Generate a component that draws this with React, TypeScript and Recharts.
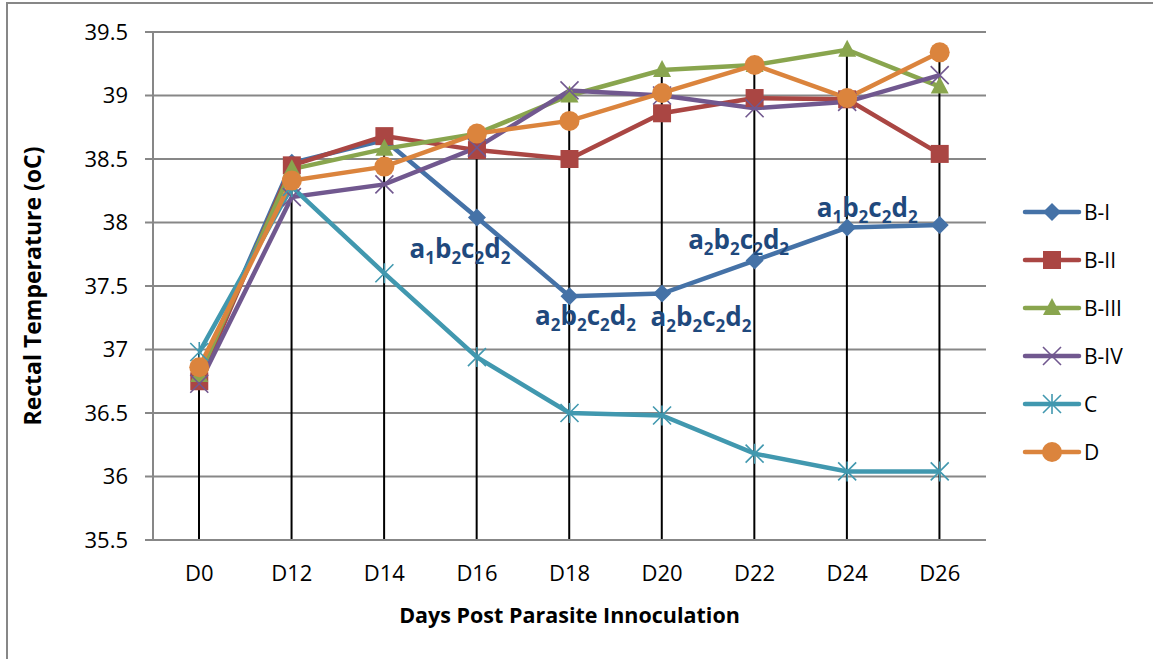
import {
  Bar,
  CartesianGrid,
  ComposedChart,
  LabelList,
  Legend,
  Line,
  XAxis,
  YAxis
} from "recharts";

const days = ["D0", "D12", "D14", "D16", "D18", "D20", "D22", "D24", "D26"];

const groupBI = [36.8, 38.47, 38.65, 38.04, 37.42, 37.44, 37.7, 37.96, 37.98];
const groupBII = [36.75, 38.45, 38.68, 38.57, 38.5, 38.86, 38.98, 38.97, 38.54];
const groupBIII = [36.8, 38.42, 38.58, 38.7, 39.0, 39.2, 39.24, 39.36, 39.07];
const groupBIV = [36.73, 38.2, 38.3, 38.59, 39.04, 39.0, 38.9, 38.95, 39.16];
const groupC = [36.98, 38.28, 37.6, 36.94, 36.5, 36.48, 36.18, 36.04, 36.04];
const groupD = [36.86, 38.33, 38.44, 38.7, 38.8, 39.02, 39.24, 38.98, 39.34];

// significance letters shown next to the B-I points
const bIMarks = ["", "", "", "a1b2c2d2", "a2b2c2d2", "a2b2c2d2", "a2b2c2d2", "a1b2c2d2", ""];

const yTicks = [35.5, 36, 36.5, 37, 37.5, 38, 38.5, 39, 39.5];

type Shape = "diamond" | "square" | "triangle" | "x" | "star" | "circle";

const series: { key: string; name: string; color: string; shape: Shape; values: number[] }[] = [
  { key: "bI", name: "B-I", color: "#4572A7", shape: "diamond", values: groupBI },
  { key: "bII", name: "B-II", color: "#AA4643", shape: "square", values: groupBII },
  { key: "bIII", name: "B-III", color: "#89A54E", shape: "triangle", values: groupBIII },
  { key: "bIV", name: "B-IV", color: "#71588F", shape: "x", values: groupBIV },
  { key: "c", name: "C", color: "#4198AF", shape: "star", values: groupC },
  { key: "d", name: "D", color: "#DB843D", shape: "circle", values: groupD }
];

const rows = days.map((day, i) => {
  const row: Record<string, number | string> = { day, mark: bIMarks[i] };
  series.forEach((s) => {
    row[s.key] = s.values[i];
  });
  row.drop = Math.max(...series.map((s) => s.values[i]));
  return row;
});

const FONT = "'Open Sans', Lato, sans-serif";
const GRAY = "#878787";

function Marker({ cx, cy, shape, color }: { cx: number; cy: number; shape: Shape; color: string }) {
  switch (shape) {
    case "diamond":
      return <path d={`M${cx},${cy - 9}L${cx + 9},${cy}L${cx},${cy + 9}L${cx - 9},${cy}Z`} fill={color} />;
    case "square":
      return <rect x={cx - 9} y={cy - 9} width={18} height={18} fill={color} />;
    case "triangle":
      return <path d={`M${cx},${cy - 10}L${cx + 9},${cy + 7}L${cx - 9},${cy + 7}Z`} fill={color} />;
    case "x":
      return (
        <path
          d={`M${cx - 9},${cy - 9}L${cx + 9},${cy + 9}M${cx + 9},${cy - 9}L${cx - 9},${cy + 9}`}
          stroke={color}
          strokeWidth={1.6}
        />
      );
    case "star":
      return (
        <path
          d={`M${cx - 9},${cy - 9}L${cx + 9},${cy + 9}M${cx + 9},${cy - 9}L${cx - 9},${cy + 9}M${cx},${cy - 10}L${cx},${cy + 10}`}
          stroke={color}
          strokeWidth={1.6}
        />
      );
    default:
      return <circle cx={cx} cy={cy} r={10} fill={color} />;
  }
}

// where each B-I annotation sits relative to its point
const markOffset: Record<number, [number, number]> = {
  3: [-17, 41],
  4: [16, 29],
  5: [39, 32],
  6: [-16, -12],
  7: [20, -11]
};

function MarkLabel(props: any) {
  const { x, y, value, index } = props;
  if (!value || !markOffset[index]) return null;
  const [dx, dy] = markOffset[index];
  const parts = String(value).match(/[a-z]\d/g) ?? [];
  return (
    <text x={x + dx} y={y + dy} textAnchor="middle" fill="#1F497D" fontFamily={FONT} fontWeight={700} fontSize={26}>
      {parts.map((p, i) => (
        <tspan key={i}>
          <tspan dy={i === 0 ? 0 : -6}>{p[0]}</tspan>
          <tspan dy={6} fontSize={17}>
            {p[1]}
          </tspan>
        </tspan>
      ))}
    </text>
  );
}

function LegendBox() {
  return (
    <div style={{ fontFamily: FONT, fontSize: 21, color: "#000" }}>
      {series.map((s) => (
        <div key={s.key} style={{ display: "flex", alignItems: "center", height: 48 }}>
          <svg width={60} height={24} style={{ display: "block" }}>
            <line x1={3} y1={12} x2={57} y2={12} stroke={s.color} strokeWidth={4.5} strokeLinecap="round" />
            <Marker cx={30} cy={12} shape={s.shape} color={s.color} />
          </svg>
          <span style={{ marginLeft: 2 }}>{s.name}</span>
        </div>
      ))}
    </div>
  );
}

export default function App() {
  return (
    <div style={{ position: "absolute", left: 0, top: 0, width: 1153, height: 659, background: "#fff", overflow: "hidden" }}>
      <div
        style={{
          position: "absolute",
          left: 6,
          top: 2,
          width: 1200,
          height: 700,
          border: `2px solid ${GRAY}`,
          boxSizing: "border-box"
        }}
      />
      <ComposedChart
        width={1153}
        height={659}
        data={rows}
        margin={{ top: 32, right: 167, bottom: 0, left: 0 }}
        style={{ position: "absolute", left: 0, top: 0 }}
      >
        <CartesianGrid vertical={false} stroke={GRAY} strokeWidth={2} />
        <XAxis
          dataKey="day"
          height={119}
          tickLine={false}
          tickSize={6}
          tickMargin={19}
          axisLine={{ stroke: GRAY, strokeWidth: 2 }}
          tick={{ fill: "#000", fontSize: 22, fontFamily: FONT }}
          label={{
            value: "Days Post Parasite Innoculation",
            position: "insideBottom",
            offset: 36,
            style: { fill: "#000", fontSize: 21.5, fontWeight: 700, fontFamily: FONT }
          }}
        />
        <YAxis
          width={153}
          domain={[35.5, 39.5]}
          ticks={yTicks}
          interval={0}
          tickSize={8}
          tickMargin={17}
          tickLine={{ stroke: GRAY, strokeWidth: 2 }}
          axisLine={{ stroke: GRAY, strokeWidth: 2 }}
          tick={{ fill: "#000", fontSize: 22, fontFamily: FONT }}
          label={{
            value: "Rectal Temperature (oC)",
            angle: -90,
            position: "insideLeft",
            offset: 33,
            style: { textAnchor: "middle", fill: "#000", fontSize: 23, fontWeight: 700, fontFamily: FONT }
          }}
        />
        {series.map((s) => (
          <Line
            key={s.key}
            dataKey={s.key}
            name={s.name}
            stroke={s.color}
            strokeWidth={4.5}
            isAnimationActive={false}
            activeDot={false}
            dot={(p: any) => <Marker key={`${s.key}-${p.index}`} cx={p.cx} cy={p.cy} shape={s.shape} color={s.color} />}
          >
            {s.key === "bI" ? <LabelList dataKey="mark" content={MarkLabel} /> : null}
          </Line>
        ))}
        <Bar dataKey="drop" barSize={2} fill="#000" isAnimationActive={false} legendType="none" />
        <Legend
          layout="vertical"
          align="center"
          verticalAlign="middle"
          content={() => <LegendBox />}
          wrapperStyle={{ left: 1022, top: 188, width: 130 }}
        />
      </ComposedChart>
    </div>
  );
}
